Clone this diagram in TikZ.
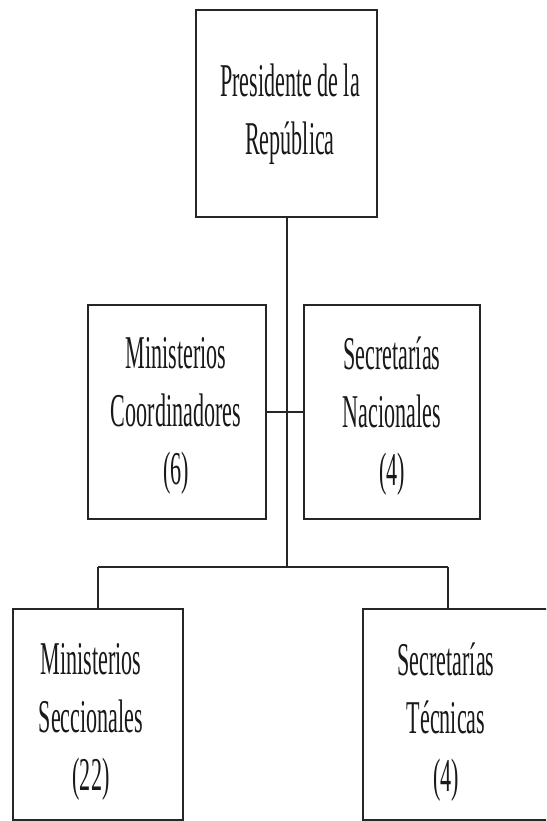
\documentclass[tikz,border=0pt]{standalone}
\usepackage{fontspec}
\newfontfamily\condserif[FakeStretch=0.47]{Liberation Serif}
\begin{document}
\begin{tikzpicture}[x=1pt,y=-1pt,
  box/.style={draw=black!85, line width=2pt, fill=white, inner sep=0pt},
  txt/.style={align=center, text=black!90, inner sep=0pt,
    font=\condserif\fontsize{47}{58}\selectfont},
  conn/.style={draw=black!85, line width=1.8pt}]
\useasboundingbox (0,0) rectangle (546,821);
\fill[white] (0,0) rectangle (546,821);
\clip (0,0) rectangle (546,821);
% top box
\node[box, minimum width=181pt, minimum height=207pt] (pres) at (286.5,113.5) {};
\node[txt] (prest) at (290,114) {Presidente de la\\República};
% middle boxes
\node[box, minimum width=178pt, minimum height=214pt] (mc) at (177,412) {};
\node[txt] (mct) at (176,416) {Ministerios\\Coordinadores\\(6)};
\node[box, minimum width=176pt, minimum height=214pt] (sn) at (392,412) {};
\node[txt] (snt) at (392,416) {Secretarías\\Nacionales\\(4)};
% bottom boxes
\node[box, minimum width=170pt, minimum height=211pt] (ms) at (98,714.5) {};
\node[txt] (mst) at (91,722) {Ministerios\\Seccionales\\(22)};
\node[box, minimum width=200pt, minimum height=211pt] (st) at (463,714.5) {};
\node[txt] (stt) at (446,722) {Secretarías\\Técnicas\\(4)};
% connectors
\coordinate (bus) at (287,567);
\coordinate (busl) at (98,567);
\coordinate (busr) at (448,567);
\draw[conn] (mc.east) -- (sn.west);
\draw[conn] (pres.south -| bus) -- (bus);
\draw[conn] (busl) -- (busr);
\draw[conn] (busl) -- (busl |- ms.north);
\draw[conn] (busr) -- (busr |- st.north);
\end{tikzpicture}
\end{document}
